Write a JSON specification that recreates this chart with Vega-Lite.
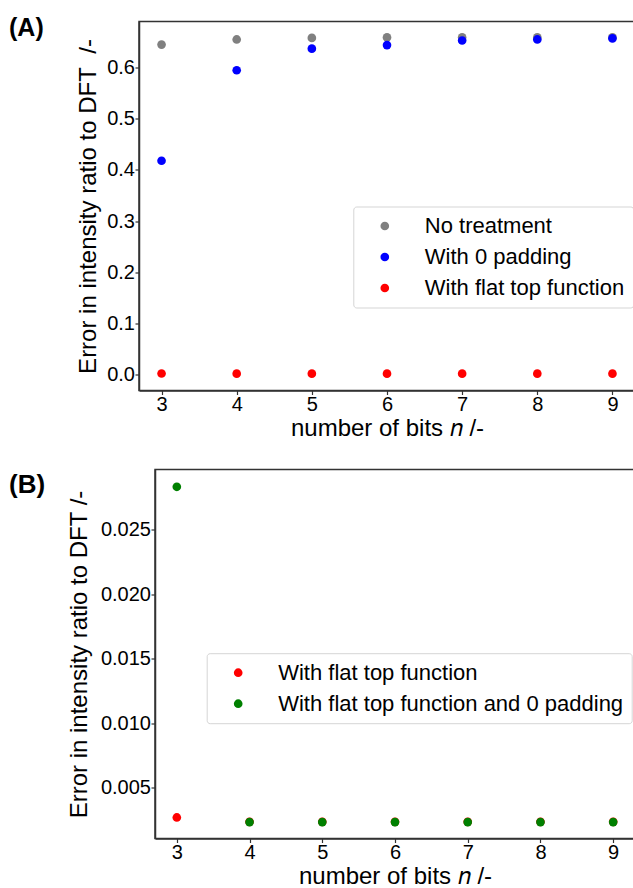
{
  "$schema": "https://vega.github.io/schema/vega-lite/v6.json",
  "padding": {"left": 7, "top": 14.5, "right": 0, "bottom": 0},
  "background": "white",
  "spacing": 27,
  "resolve": {"scale": {"color": "independent"}, "legend": {"color": "independent"}},
  "config": {
    "font": "Liberation Sans",
    "view": {"stroke": "#333333", "strokeWidth": 1.5},
    "axis": {
      "grid": false,
      "domainColor": "#333333",
      "domainWidth": 1.5,
      "tickColor": "#333333",
      "tickSize": 4,
      "tickWidth": 1.2,
      "labelFont": "Liberation Sans",
      "labelFontSize": 20,
      "labelColor": "black",
      "titleFont": "Liberation Sans",
      "titleFontSize": 24,
      "titleFontWeight": "normal",
      "titleColor": "black"
    },
    "legend": {
      "title": null,
      "padding": 8.5,
      "symbolOffset": 12,
      "labelOffset": 29,
      "rowPadding": 9,
      "symbolSize": 75,
      "symbolType": "circle",
      "symbolStrokeWidth": 0,
      "labelFont": "Liberation Sans",
      "labelFontSize": 22,
      "labelColor": "black",
      "labelLimit": 0,
      "fillColor": "white",
      "strokeColor": "#d5d5d5",
      "cornerRadius": 3
    }
  },
  "vconcat": [
    {
      "spacing": 0,
      "hconcat": [
        {
          "width": 1,
          "height": 1,
          "view": {"stroke": null},
          "data": {"values": []},
          "mark": {"type": "point", "opacity": 0},
          "encoding": {}
        },
        {
          "width": 496,
          "height": 369,
          "title": {"text": "(A)", "anchor": "start", "frame": "group", "orient": "top", "offset": -25, "dx": -130, "dy": 14, "baseline": "alphabetic", "fontSize": 25, "fontWeight": "bold", "font": "Liberation Sans", "color": "black"},
          "data": {"values": [
            {"bits": 3, "error": 0.644, "method": "No treatment"},
            {"bits": 4, "error": 0.654, "method": "No treatment"},
            {"bits": 5, "error": 0.657, "method": "No treatment"},
            {"bits": 6, "error": 0.658, "method": "No treatment"},
            {"bits": 7, "error": 0.658, "method": "No treatment"},
            {"bits": 8, "error": 0.658, "method": "No treatment"},
            {"bits": 9, "error": 0.658, "method": "No treatment"},
            {"bits": 3, "error": 0.4175, "method": "With 0 padding"},
            {"bits": 4, "error": 0.594, "method": "With 0 padding"},
            {"bits": 5, "error": 0.636, "method": "With 0 padding"},
            {"bits": 6, "error": 0.643, "method": "With 0 padding"},
            {"bits": 7, "error": 0.652, "method": "With 0 padding"},
            {"bits": 8, "error": 0.654, "method": "With 0 padding"},
            {"bits": 9, "error": 0.656, "method": "With 0 padding"},
            {"bits": 3, "error": 0.0027, "method": "With flat top function"},
            {"bits": 4, "error": 0.0024, "method": "With flat top function"},
            {"bits": 5, "error": 0.0024, "method": "With flat top function"},
            {"bits": 6, "error": 0.0024, "method": "With flat top function"},
            {"bits": 7, "error": 0.0024, "method": "With flat top function"},
            {"bits": 8, "error": 0.0024, "method": "With flat top function"},
            {"bits": 9, "error": 0.0024, "method": "With flat top function"}
          ]},
          "mark": {"type": "point", "filled": true, "opacity": 1, "size": 75},
          "encoding": {
            "x": {"field": "bits", "type": "quantitative", "scale": {"domain": [2.7, 9.3], "nice": false, "zero": false},
                  "axis": {"values": [3, 4, 5, 6, 7, 8, 9], "format": "d", "title": "number of bits 𝑛 /-", "titlePadding": 2, "labelPadding": 0}},
            "y": {"field": "error", "type": "quantitative", "scale": {"domain": [-0.0305, 0.689], "nice": false, "zero": false},
                  "axis": {"values": [0, 0.1, 0.2, 0.3, 0.4, 0.5, 0.6], "format": ".1f", "title": "Error in intensity ratio to DFT\u00a0 /-", "titlePadding": 6, "labelPadding": 0.5}},
            "color": {"field": "method", "type": "nominal",
                      "scale": {"domain": ["No treatment", "With 0 padding", "With flat top function"], "range": ["#808080", "#0000ff", "#ff0000"]},
                      "legend": {"orient": "none", "legendX": 346.3, "legendY": 185}}
          }
        }
      ]
    },
    {
      "spacing": 0,
      "hconcat": [
        {
          "width": 1,
          "height": 1,
          "view": {"stroke": null},
          "data": {"values": []},
          "mark": {"type": "point", "opacity": 0},
          "encoding": {}
        },
        {
          "width": 480,
          "height": 369,
          "title": {"text": "(B)", "anchor": "start", "frame": "group", "orient": "top", "offset": -22.7, "dx": -146, "dy": 26.7, "baseline": "alphabetic", "fontSize": 26, "fontWeight": "bold", "font": "Liberation Sans", "color": "black"},
          "data": {"values": [
            {"bits": 3, "error": 0.00271, "method": "With flat top function"},
            {"bits": 4, "error": 0.00237, "method": "With flat top function"},
            {"bits": 5, "error": 0.00237, "method": "With flat top function"},
            {"bits": 6, "error": 0.00237, "method": "With flat top function"},
            {"bits": 7, "error": 0.00237, "method": "With flat top function"},
            {"bits": 8, "error": 0.00237, "method": "With flat top function"},
            {"bits": 9, "error": 0.00237, "method": "With flat top function"},
            {"bits": 3, "error": 0.0283, "method": "With flat top function and 0 padding"},
            {"bits": 4, "error": 0.00235, "method": "With flat top function and 0 padding"},
            {"bits": 5, "error": 0.00235, "method": "With flat top function and 0 padding"},
            {"bits": 6, "error": 0.00235, "method": "With flat top function and 0 padding"},
            {"bits": 7, "error": 0.00235, "method": "With flat top function and 0 padding"},
            {"bits": 8, "error": 0.00235, "method": "With flat top function and 0 padding"},
            {"bits": 9, "error": 0.00235, "method": "With flat top function and 0 padding"}
          ]},
          "mark": {"type": "point", "filled": true, "opacity": 1, "size": 75},
          "encoding": {
            "x": {"field": "bits", "type": "quantitative", "scale": {"domain": [2.7, 9.3], "nice": false, "zero": false},
                  "axis": {"values": [3, 4, 5, 6, 7, 8, 9], "format": "d", "title": "number of bits 𝑛 /-", "titlePadding": 2, "labelPadding": 0}},
            "y": {"field": "error", "type": "quantitative", "scale": {"domain": [0.00108, 0.02964], "nice": false, "zero": false},
                  "axis": {"values": [0.005, 0.01, 0.015, 0.02, 0.025], "format": ".3f", "title": "Error in intensity ratio to DFT /-", "titlePadding": 9, "labelPadding": 0.5}},
            "color": {"field": "method", "type": "nominal",
                      "scale": {"domain": ["With flat top function", "With flat top function and 0 padding"], "range": ["#ff0000", "#008000"]},
                      "legend": {"orient": "none", "legendX": 199.7, "legendY": 183.7}}
          }
        }
      ]
    }
  ]
}
